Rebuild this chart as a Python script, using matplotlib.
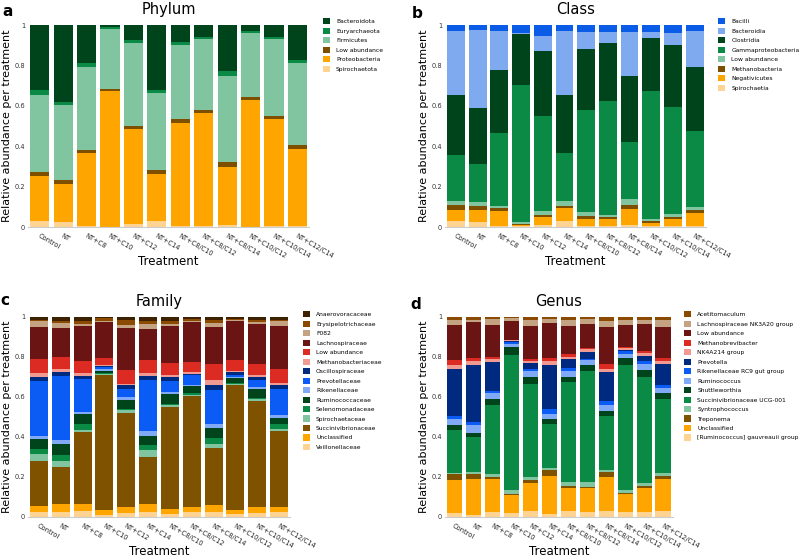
import numpy as np
import matplotlib
matplotlib.use("Agg")
import matplotlib.pyplot as plt
import matplotlib.transforms as mtransforms
from matplotlib.patches import Patch

treatments = ["Control", "NT", "NT+C8", "NT+C10", "NT+C12", "NT+C14", "NT+C8/C10",
              "NT+C8/C12", "NT+C8/C14", "NT+C10/C12", "NT+C10/C14", "NT+C12/C14"]

# --- Phylum (legend order, top of stack first) ---
phylum_names = ["Bacteroidota", "Euryarchaeota", "Firmicutes", "Low abundance",
                "Proteobacteria", "Spirochaetota"]
phylum_colors = ["#00441b", "#0b8a45", "#80c4a0", "#7f4f00", "#ffa500", "#ffd391"]
bacteroidota = [0.319, 0.380, 0.190, 0.008, 0.074, 0.319, 0.083, 0.061, 0.225, 0.030, 0.061, 0.174]
euryarchaeota = [0.025, 0.017, 0.017, 0.010, 0.017, 0.017, 0.016, 0.010, 0.026, 0.008, 0.010, 0.016]
firmicutes = [0.383, 0.368, 0.411, 0.298, 0.407, 0.380, 0.365, 0.350, 0.428, 0.317, 0.377, 0.405]
phy_low = [0.020, 0.020, 0.015, 0.010, 0.018, 0.020, 0.019, 0.014, 0.023, 0.014, 0.015, 0.018]
proteobacteria = [0.223, 0.190, 0.360, 0.672, 0.469, 0.234, 0.510, 0.558, 0.285, 0.628, 0.529, 0.379]
spirochaetota = [0.030, 0.025, 0.007, 0.002, 0.015, 0.030, 0.007, 0.007, 0.013, 0.003, 0.008, 0.008]
phylum_vals = [bacteroidota, euryarchaeota, firmicutes, phy_low, proteobacteria, spirochaetota]

# --- Class ---
class_names = ["Bacilli", "Bacteroidia", "Clostridia", "Gammaproteobacteria",
               "Low abundance", "Methanobacteria", "Negativicutes", "Spirochaetia"]
class_colors = ["#0a5ce6", "#80aaf0", "#00441b", "#0b8a45", "#80c4a0", "#7f4f00",
                "#ffa500", "#ffd391"]
bacilli = [0.030, 0.025, 0.030, 0.038, 0.053, 0.030, 0.036, 0.035, 0.033, 0.036, 0.041, 0.030]
bacteroidia = [0.317, 0.383, 0.190, 0.008, 0.074, 0.317, 0.081, 0.056, 0.220, 0.027, 0.058, 0.177]
clostridia = [0.298, 0.278, 0.312, 0.252, 0.323, 0.286, 0.301, 0.286, 0.326, 0.264, 0.306, 0.317]
gammaproteo = [0.223, 0.188, 0.361, 0.674, 0.471, 0.238, 0.509, 0.560, 0.282, 0.630, 0.529, 0.377]
cls_low = [0.023, 0.020, 0.014, 0.010, 0.016, 0.022, 0.018, 0.013, 0.027, 0.013, 0.013, 0.016]
methanobacteria = [0.023, 0.020, 0.014, 0.005, 0.013, 0.011, 0.014, 0.009, 0.024, 0.009, 0.010, 0.014]
negativicutes = [0.056, 0.061, 0.072, 0.008, 0.037, 0.066, 0.034, 0.034, 0.075, 0.016, 0.035, 0.061]
spirochaetia = [0.030, 0.025, 0.007, 0.005, 0.013, 0.030, 0.007, 0.007, 0.013, 0.005, 0.008, 0.008]
class_vals = [bacilli, bacteroidia, clostridia, gammaproteo, cls_low, methanobacteria,
              negativicutes, spirochaetia]

# --- Family ---
family_names = ["Anaerovoracaceae", "Erysipelotrichaceae", "F082", "Lachnospiraceae",
                "Low abundance", "Methanobacteriaceae", "Oscillospiraceae", "Prevotellaceae",
                "Rikenellaceae", "Ruminococcaceae", "Selenomonadaceae", "Spirochaetaceae",
                "Succinivibrionaceae", "Unclassified", "Veillonellaceae"]
family_colors = ["#3d2100", "#8b4a00", "#c4a383", "#6b1414", "#dc2b22", "#f09a92",
                 "#002a7f", "#0a5cf5", "#80aaf5", "#00441b", "#0b8a45", "#80c4a0",
                 "#7f5200", "#ffa500", "#ffd391"]
anaerovoracaceae = [0.013, 0.020, 0.020, 0.007, 0.017, 0.020, 0.020, 0.010, 0.017, 0.008, 0.013, 0.013]
erysipelotrichaceae = [0.009, 0.008, 0.013, 0.013, 0.023, 0.013, 0.013, 0.008, 0.013, 0.009, 0.014, 0.009]
f082 = [0.028, 0.028, 0.012, 0.003, 0.016, 0.028, 0.012, 0.009, 0.020, 0.005, 0.006, 0.025]
lachnospiraceae = [0.160, 0.143, 0.177, 0.182, 0.207, 0.154, 0.185, 0.198, 0.185, 0.191, 0.200, 0.213]
fam_low = [0.070, 0.061, 0.059, 0.033, 0.070, 0.066, 0.060, 0.051, 0.078, 0.055, 0.058, 0.069]
methanobacteriaceae = [0.021, 0.016, 0.012, 0.005, 0.009, 0.014, 0.011, 0.009, 0.028, 0.007, 0.007, 0.012]
oscillospiraceae = [0.020, 0.017, 0.017, 0.009, 0.016, 0.018, 0.020, 0.006, 0.022, 0.013, 0.015, 0.017]
prevotellaceae = [0.275, 0.323, 0.165, 0.008, 0.042, 0.257, 0.052, 0.047, 0.174, 0.010, 0.038, 0.130]
rikenellaceae = [0.016, 0.020, 0.012, 0.008, 0.017, 0.024, 0.014, 0.008, 0.020, 0.006, 0.008, 0.019]
ruminococcaceae = [0.050, 0.054, 0.046, 0.013, 0.043, 0.048, 0.047, 0.035, 0.047, 0.025, 0.045, 0.027]
selenomonadaceae = [0.025, 0.029, 0.030, 0.004, 0.007, 0.024, 0.008, 0.007, 0.033, 0.004, 0.004, 0.025]
spirochaetaceae = [0.033, 0.029, 0.012, 0.003, 0.013, 0.033, 0.008, 0.008, 0.020, 0.005, 0.013, 0.012]
succinivibrionaceae = [0.225, 0.189, 0.359, 0.679, 0.470, 0.235, 0.510, 0.557, 0.285, 0.629, 0.532, 0.379]
fam_unclassified = [0.033, 0.037, 0.035, 0.026, 0.033, 0.040, 0.025, 0.025, 0.033, 0.020, 0.027, 0.028]
veillonellaceae = [0.022, 0.026, 0.031, 0.007, 0.017, 0.026, 0.015, 0.022, 0.025, 0.013, 0.020, 0.022]
family_vals = [anaerovoracaceae, erysipelotrichaceae, f082, lachnospiraceae, fam_low,
               methanobacteriaceae, oscillospiraceae, prevotellaceae, rikenellaceae,
               ruminococcaceae, selenomonadaceae, spirochaetaceae, succinivibrionaceae,
               fam_unclassified, veillonellaceae]

# --- Genus ---
genus_names = ["Acetitomaculum", "Lachnospiraceae NK3A20 group", "Low abundance",
               "Methanobrevibacter", "NK4A214 group", "Prevotella",
               "Rikenellaceae RC9 gut group", "Ruminococcus", "Shuttleworthia",
               "Succinivibrionaceae UCG-001", "Syntrophococcus", "Treponema",
               "Unclassified", "[Ruminococcus] gauvreauii group"]
genus_colors = ["#8b4a00", "#c4a383", "#6b1414", "#dc2b22", "#f09a92", "#002a7f",
                "#0a5cf5", "#80aaf5", "#00441b", "#0b8a45", "#80c4a0", "#7f5200",
                "#ffa500", "#ffd391"]
acetitomaculum = [0.013, 0.013, 0.010, 0.005, 0.017, 0.008, 0.017, 0.010, 0.022, 0.013, 0.013, 0.013]
lachno_nk3a20 = [0.029, 0.014, 0.028, 0.017, 0.026, 0.022, 0.026, 0.025, 0.030, 0.025, 0.022, 0.039]
gen_low = [0.174, 0.178, 0.162, 0.091, 0.165, 0.175, 0.140, 0.120, 0.181, 0.112, 0.136, 0.153]
methanobrevibacter = [0.025, 0.016, 0.010, 0.003, 0.010, 0.016, 0.017, 0.005, 0.027, 0.005, 0.009, 0.016]
nk4a214 = [0.017, 0.017, 0.016, 0.005, 0.012, 0.017, 0.010, 0.015, 0.016, 0.008, 0.016, 0.012]
prevotella = [0.235, 0.286, 0.145, 0.005, 0.028, 0.221, 0.045, 0.033, 0.145, 0.008, 0.025, 0.105]
rikenellaceae_rc9 = [0.016, 0.018, 0.008, 0.009, 0.013, 0.025, 0.013, 0.005, 0.017, 0.014, 0.014, 0.016]
ruminococcus = [0.033, 0.037, 0.030, 0.015, 0.030, 0.028, 0.032, 0.025, 0.033, 0.020, 0.028, 0.025]
shuttleworthia = [0.025, 0.022, 0.029, 0.038, 0.033, 0.025, 0.026, 0.033, 0.022, 0.036, 0.038, 0.029]
succini_ucg001 = [0.212, 0.174, 0.349, 0.677, 0.465, 0.220, 0.499, 0.554, 0.274, 0.624, 0.528, 0.371]
syntrophococcus = [0.008, 0.009, 0.013, 0.022, 0.016, 0.008, 0.020, 0.024, 0.008, 0.017, 0.016, 0.016]
treponema = [0.030, 0.025, 0.009, 0.003, 0.017, 0.030, 0.012, 0.008, 0.024, 0.005, 0.012, 0.014]
gen_unclassified = [0.165, 0.181, 0.169, 0.093, 0.138, 0.192, 0.116, 0.118, 0.171, 0.091, 0.121, 0.161]
gauvreauii = [0.018, 0.010, 0.022, 0.017, 0.030, 0.013, 0.027, 0.025, 0.030, 0.022, 0.022, 0.030]
genus_vals = [acetitomaculum, lachno_nk3a20, gen_low, methanobrevibacter, nk4a214, prevotella,
              rikenellaceae_rc9, ruminococcus, shuttleworthia, succini_ucg001, syntrophococcus,
              treponema, gen_unclassified, gauvreauii]


def stacked(ax, names, colors, vals, title, leg_y):
    data = np.array(vals)
    data = data / data.sum(axis=0)  # relative abundance per treatment
    x = np.arange(len(treatments))
    bottom = np.zeros(len(treatments))
    # stack from the last legend entry at the bottom
    for i in range(len(names) - 1, -1, -1):
        ax.bar(x, data[i], bottom=bottom, width=0.82, color=colors[i], linewidth=0)
        bottom += data[i]
    ax.set_xlim(-0.5, len(treatments) - 0.5)
    ax.set_ylim(0, 1.0)
    ax.set_yticks([0, 0.2, 0.4, 0.6, 0.8, 1])
    ax.set_yticklabels(["0", "0.2", "0.4", "0.6", "0.8", "1"], fontsize=4.8, color="#333333")
    ax.set_xticks(x)
    ax.set_xticklabels(treatments, rotation=-30, ha="left", va="top",
                       rotation_mode="anchor", fontsize=4.8, color="#222222")
    shift = mtransforms.ScaledTranslation(-0.07, 0, ax.figure.dpi_scale_trans)
    for lab in ax.get_xticklabels():
        lab.set_transform(lab.get_transform() + shift)
    ax.tick_params(axis="y", length=0, pad=2)
    ax.tick_params(axis="x", length=0, pad=4)
    for s in ["top", "right", "left"]:
        ax.spines[s].set_visible(False)
    ax.spines["bottom"].set_color("#cccccc")
    ax.set_ylabel("Relative abundance per treatment", fontsize=8, labelpad=2)
    ax.set_xlabel("Treatment", fontsize=8.5, labelpad=-3)
    ax.set_title(title, fontsize=10.5, pad=8)
    handles = [Patch(facecolor=c, edgecolor="none") for c in colors]
    ax.legend(handles, names, loc="upper left", bbox_to_anchor=(1.04, leg_y),
              frameon=False, fontsize=4.3, handlelength=1.2, handleheight=1.2,
              handletextpad=1.0, labelspacing=0.56, borderaxespad=0)


fig = plt.figure(figsize=(7.99, 5.57), dpi=100)
ax_a = fig.add_axes([0.035, 0.592, 0.352, 0.363])
ax_b = fig.add_axes([0.557, 0.592, 0.326, 0.363])
ax_c = fig.add_axes([0.035, 0.072, 0.328, 0.359])
ax_d = fig.add_axes([0.557, 0.072, 0.285, 0.359])

stacked(ax_a, phylum_names, phylum_colors, phylum_vals, "Phylum", 1.045)
stacked(ax_b, class_names, class_colors, class_vals, "Class", 1.045)
stacked(ax_c, family_names, family_colors, family_vals, "Family", 1.04)
stacked(ax_d, genus_names, genus_colors, genus_vals, "Genus", 1.04)

# panel letters
for letter, (lx, ly) in zip("abcd", [(0.003, 0.972), (0.515, 0.968), (0.001, 0.452), (0.513, 0.445)]):
    fig.text(lx, ly, letter, fontsize=11, fontweight="bold", ha="left", va="baseline")

fig.savefig("out.png", dpi=100)
